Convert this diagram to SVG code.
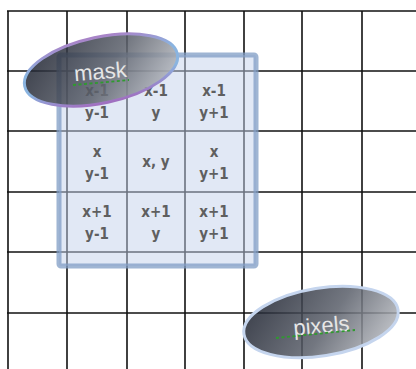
<svg xmlns="http://www.w3.org/2000/svg" width="416" height="369" viewBox="0 0 416 369">
<style>
.grid line{stroke:#111;stroke-width:1.6}
.cell{font-family:"DejaVu Sans Condensed","Liberation Sans Narrow","Liberation Sans",Arial,sans-serif;font-stretch:condensed;font-weight:bold;font-size:15px;fill:#5f5f5f;text-anchor:middle}
.lbl{font-family:"Liberation Sans",Arial,sans-serif;font-size:22px;fill:#e6e6e6;text-anchor:middle}
.squig{stroke:#2f9a2f;stroke-width:1.8;stroke-dasharray:3 2.5;fill:none}
</style>
<defs>
<linearGradient id="fillg" x1="0" y1="0.3" x2="1" y2="0.7">
<stop offset="0" stop-color="#1e2330"/>
<stop offset="0.55" stop-color="#5a5f6a"/>
<stop offset="1" stop-color="#b4b7bd"/>
</linearGradient>
<linearGradient id="strokeMask" x1="0" y1="0" x2="0" y2="1">
<stop offset="0" stop-color="#a884c8"/>
<stop offset="0.35" stop-color="#8ab4e0"/>
<stop offset="0.65" stop-color="#8ab4e0"/>
<stop offset="1" stop-color="#a070c0"/>
</linearGradient>
</defs>
<rect width="416" height="369" fill="#fff"/>
<g class="grid">
<line x1="7" y1="11" x2="416" y2="11"/>
<line x1="7" y1="71" x2="416" y2="71"/>
<line x1="7" y1="131" x2="416" y2="131"/>
<line x1="7" y1="192" x2="416" y2="192"/>
<line x1="7" y1="252" x2="416" y2="252"/>
<line x1="7" y1="313" x2="416" y2="313"/>
<line x1="8" y1="11" x2="8" y2="369"/>
<line x1="67" y1="11" x2="67" y2="369"/>
<line x1="127" y1="11" x2="127" y2="369"/>
<line x1="185" y1="11" x2="185" y2="369"/>
<line x1="244" y1="11" x2="244" y2="369"/>
<line x1="302" y1="11" x2="302" y2="369"/>
<line x1="362" y1="11" x2="362" y2="369"/>
</g>
<g id="maskbox">
<rect x="59" y="55" width="197" height="211" rx="2" fill="#c4d1ec" fill-opacity="0.5" stroke="#7f9cc4" stroke-opacity="0.75" stroke-width="5"/>
</g>
<g id="cells">
<text class="cell" x="97" y="96">x-1</text><text class="cell" x="97" y="118">y-1</text>
<text class="cell" x="156" y="96">x-1</text><text class="cell" x="156" y="118">y</text>
<text class="cell" x="214" y="96">x-1</text><text class="cell" x="214" y="118">y+1</text>
<text class="cell" x="97" y="157">x</text><text class="cell" x="97" y="179">y-1</text>
<text class="cell" x="156" y="167">x, y</text>
<text class="cell" x="214" y="157">x</text><text class="cell" x="214" y="179">y+1</text>
<text class="cell" x="97" y="217">x+1</text><text class="cell" x="97" y="239">y-1</text>
<text class="cell" x="156" y="217">x+1</text><text class="cell" x="156" y="239">y</text>
<text class="cell" x="214" y="217">x+1</text><text class="cell" x="214" y="239">y+1</text>
</g>
<g id="mask">
<ellipse cx="101" cy="70" rx="78" ry="33" transform="rotate(-12 101 70)" fill="url(#fillg)" fill-opacity="0.85" stroke="url(#strokeMask)" stroke-width="3"/>
<text class="lbl" x="101" y="79" transform="rotate(-5 101 79)">mask</text>
<path class="squig" d="M73 85 L129 80"/>
</g>
<g id="pixels">
<ellipse cx="321" cy="322" rx="78" ry="34" transform="rotate(-9 321 322)" fill="url(#fillg)" fill-opacity="0.85" stroke="#c5d5ee" stroke-width="3"/>
<text class="lbl" x="322" y="333" transform="rotate(-5 322 333)">pixels</text>
<path class="squig" d="M276 338 L355 330"/>
</g>
</svg>
